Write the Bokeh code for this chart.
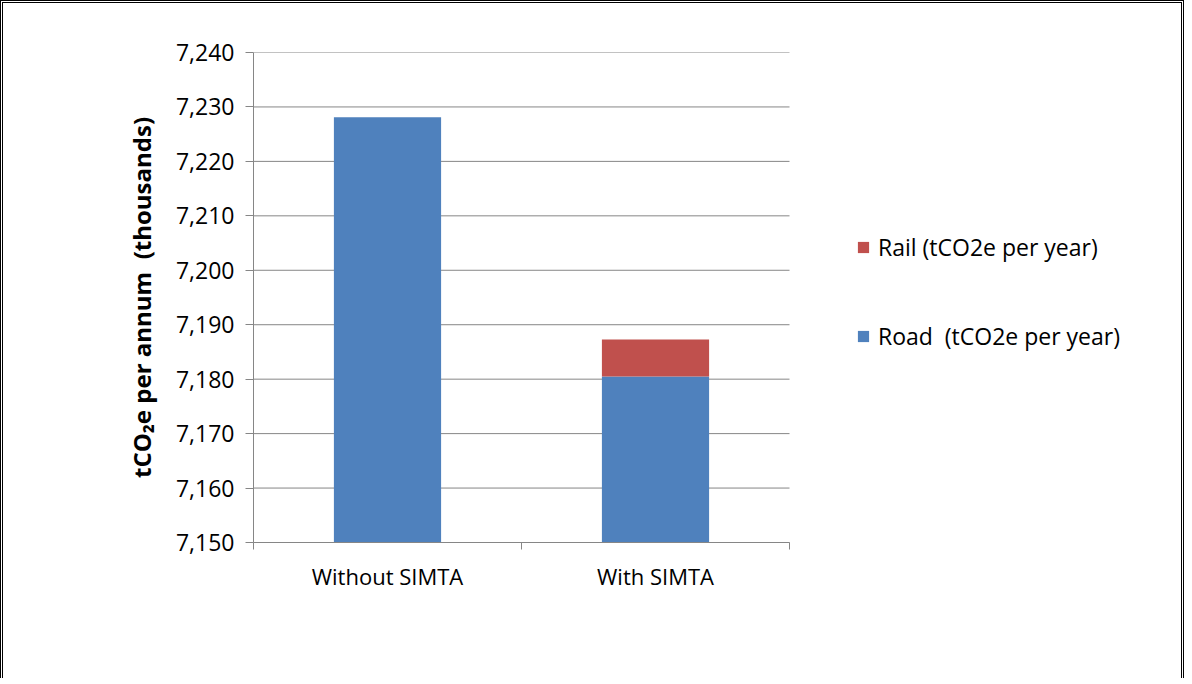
from bokeh.plotting import figure
from bokeh.models import FixedTicker, Legend, LegendItem, ColumnDataSource, Range1d, NumeralTickFormatter
from bokeh.embed import file_html
from bokeh.resources import INLINE

categories = ["Without SIMTA", "With SIMTA"]
road = [7228.1, 7180.5]
rail = [0.0, 6.8]
y_ticks = [7150, 7160, 7170, 7180, 7190, 7200, 7210, 7220, 7230, 7240]

BLUE = "#4F81BD"
RED = "#C0504D"
GRID = "#868686"
FONT = "Open Sans"

# layout (pixels)
W, H = 1184, 678
LEFT, TOP, BOTTOM = 250, 49, 139
PLOT_PX = 536            # width used by the bar categories
FRAME_PX = W - LEFT      # frame extends under the legend area

n = len(categories)
xs = [i + 0.5 for i in range(n)]
rail_top = [a + b for a, b in zip(road, rail)]
src = ColumnDataSource(dict(x=xs, road=road, rail_top=rail_top, zero=[0] * n))

p = figure(width=W, height=H, output_backend="svg", toolbar_location=None,
           x_range=Range1d(0, n * FRAME_PX / PLOT_PX), y_range=Range1d(y_ticks[0], y_ticks[-1]),
           min_border_left=LEFT, min_border_right=0, min_border_top=TOP, min_border_bottom=BOTTOM)
p.styles = {"border-left": "3px double black", "border-top": "3px double black",
            "border-right": "3px double black"}

# gridlines limited to the category area
p.segment(x0=[0] * len(y_ticks), x1=[n] * len(y_ticks), y0=y_ticks, y1=y_ticks,
          line_color=GRID, line_width=1, level="underlay")

r_road = p.vbar(x="x", top="road", bottom="zero", width=0.4, source=src,
                fill_color=BLUE, line_color=None)
r_rail = p.vbar(x="x", top="rail_top", bottom="road", width=0.4, source=src,
                fill_color=RED, line_color=None)

p.outline_line_color = None
p.background_fill_color = "white"
p.border_fill_color = "white"
p.xgrid.grid_line_color = None
p.ygrid.grid_line_color = None

# y axis
p.yaxis.ticker = FixedTicker(ticks=y_ticks)
p.yaxis.formatter = NumeralTickFormatter(format="0,0")
p.yaxis.axis_line_color = GRID
p.yaxis.major_tick_line_color = GRID
p.yaxis.major_tick_out = 8
p.yaxis.major_tick_in = 0
p.yaxis.minor_tick_line_color = None
p.yaxis.major_label_text_font = FONT
p.yaxis.major_label_text_font_size = "23px"
p.yaxis.major_label_text_color = "black"
p.yaxis.major_label_standoff = 11
p.yaxis.axis_label = "tCO\u2082e per annum\u00a0 (thousands)"
p.yaxis.axis_label_text_font = FONT
p.yaxis.axis_label_text_font_size = "24px"
p.yaxis.axis_label_text_font_style = "bold"
p.yaxis.axis_label_text_color = "black"
p.yaxis.axis_label_standoff = 15

# x axis
p.xaxis.bounds = (0, n)
p.xaxis.ticker = FixedTicker(ticks=xs, minor_ticks=list(range(n + 1)))
p.xaxis.major_label_overrides = {x: c for x, c in zip(xs, categories)}
p.xaxis.axis_line_color = GRID
p.xaxis.major_tick_line_color = None
p.xaxis.minor_tick_line_color = GRID
p.xaxis.minor_tick_out = 7
p.xaxis.minor_tick_in = 0
p.xaxis.major_label_text_font = FONT
p.xaxis.major_label_text_font_size = "22px"
p.xaxis.major_label_text_color = "black"
p.xaxis.major_label_standoff = 11

legend = Legend(items=[LegendItem(label="Rail (tCO2e per year)", renderers=[r_rail]),
                       LegendItem(label="Road\u00a0 (tCO2e per year)", renderers=[r_road])],
                location=(603, 190), orientation="vertical")
legend.border_line_color = None
legend.background_fill_alpha = 0
legend.padding = 0
legend.margin = 0
legend.glyph_width = 14
legend.glyph_height = 14
legend.label_height = 20
legend.spacing = 57
legend.label_standoff = 8
legend.label_text_font = FONT
legend.label_text_font_size = "23px"
legend.label_text_color = "black"
p.add_layout(legend, "center")

open("out.html", "w").write(file_html(p, INLINE))
